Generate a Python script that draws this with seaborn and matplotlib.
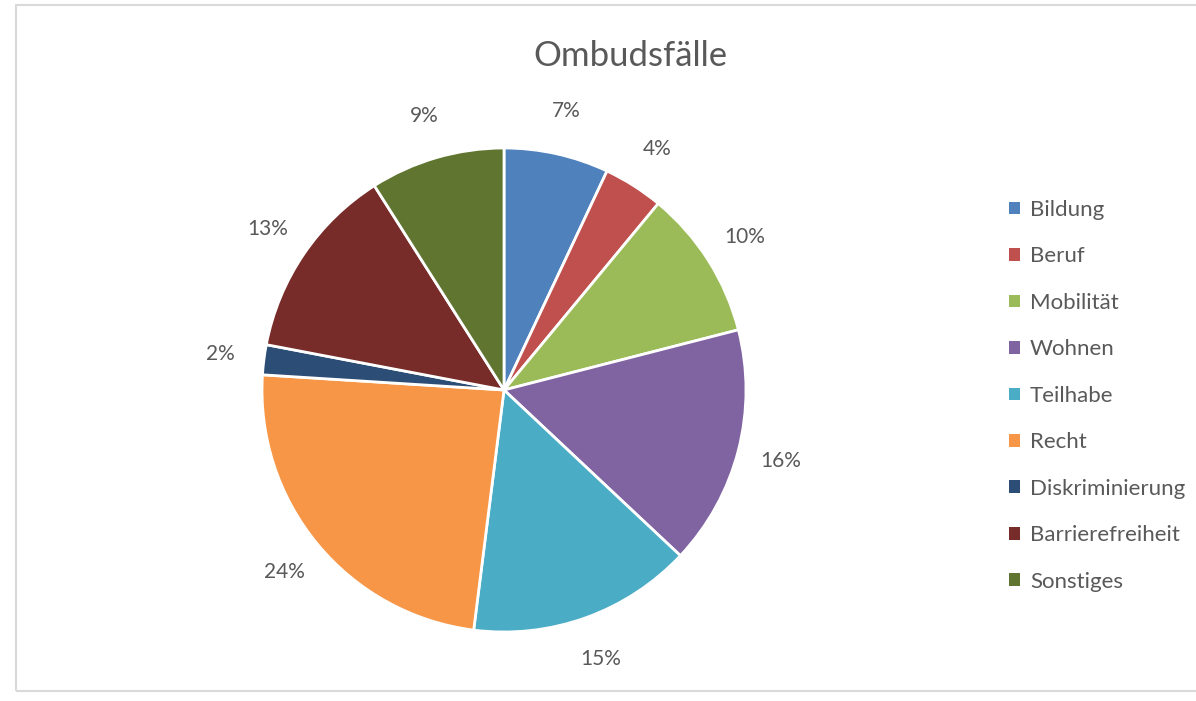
import matplotlib
matplotlib.use("Agg")
import matplotlib.pyplot as plt
import matplotlib.patches as mpatches
import seaborn as sns

# Data
categories = ["Bildung", "Beruf", "Mobilität", "Wohnen", "Teilhabe",
              "Recht", "Diskriminierung", "Barrierefreiheit", "Sonstiges"]
shares = [7, 4, 10, 16, 15, 24, 2, 13, 9]
slice_colors = ["#4F81BD", "#C0504D", "#9BBB59", "#8064A2", "#4BACC6",
                "#F79646", "#2C4D75", "#772C2A", "#5F7530"]

sns.set_theme(style="white")
plt.rcParams['font.family'] = ['Lato', 'DejaVu Sans']
palette = sns.color_palette(slice_colors)
text_gray = "#595959"

fig = plt.figure(figsize=(11.96, 7.01), dpi=100)
W, H = 1196, 701

# chart frame (light gray border like the Excel chart area)
fig.patches.append(mpatches.Rectangle((16 / W, 10 / H), 1.2, (H - 15) / H,
                                      transform=fig.transFigure, fill=False,
                                      edgecolor="#D9D9D9", linewidth=1.5))

# pie axes: centre ~ (504, 390) px, radius ~ 242 px
R = 242
lim = 1.25
side = 2 * R * lim
ax = fig.add_axes([(504 - side / 2) / W, (H - 390 - side / 2) / H, side / W, side / H])

wedges, _, autotexts = ax.pie(shares, colors=palette, startangle=90, counterclock=False,
                              autopct=lambda p: f"{p:.0f}%", pctdistance=1.18,
                              wedgeprops=dict(edgecolor="white", linewidth=2),
                              textprops=dict(color=text_gray, fontsize=15))
ax.set_xlim(-lim, lim)
ax.set_ylim(-lim, lim)
ax.set_aspect("equal")
ax.axis("off")

fig.text(630 / W, 1 - 56 / H, "Ombudsfälle", ha="center", va="center",
         fontsize=25, color=text_gray)

leg = fig.legend(wedges, categories, loc="upper left",
                 bbox_to_anchor=(989 / W, 1 - 180 / H), frameon=False,
                 fontsize=16, handlelength=0.5, handleheight=0.5,
                 handletextpad=0.45, labelspacing=1.19, labelcolor=text_gray)
for h in leg.legend_handles:
    h.set_edgecolor("none")

fig.savefig("out.png", dpi=100, facecolor="white")
